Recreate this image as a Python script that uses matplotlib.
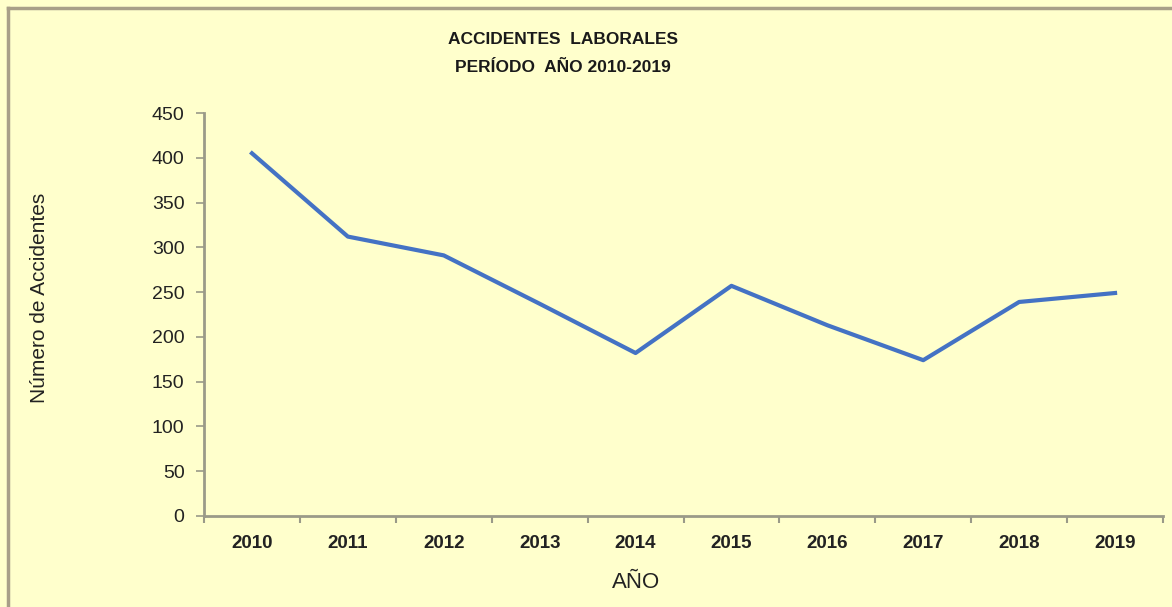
import numpy as np
import matplotlib.pyplot as plt
from matplotlib.lines import Line2D

years = ["2010", "2011", "2012", "2013", "2014", "2015", "2016", "2017", "2018", "2019"]
accidentes = [405, 312, 291, 237, 182, 257, 213, 174, 239, 249]
yticks = [0, 50, 100, 150, 200, 250, 300, 350, 400, 450]

plt.rcParams['font.family'] = ['Liberation Sans Narrow', 'Liberation Sans', 'DejaVu Sans']

bg = '#ffffcc'
W, H = 1172, 607
fig = plt.figure(figsize=(W / 100, H / 100), dpi=100, facecolor=bg)

# marco exterior
fig.add_artist(Line2D([8 / W, 1], [1 - 8 / H, 1 - 8 / H], color='#a89f88', lw=2.5))
fig.add_artist(Line2D([8 / W, 8 / W], [0, 1 - 8 / H], color='#a89f88', lw=2.5))

ax = fig.add_axes([204 / W, 1 - 516 / H, (1163 - 204) / W, (516 - 113) / H])
ax.set_facecolor(bg)

x = np.arange(len(years))
ax.plot(x, accidentes, color='#4472c4', lw=3, solid_joinstyle='round')

ax.set_xlim(-0.5, len(years) - 0.5)
ax.set_ylim(0, 450)
ax.set_yticks(yticks)
ax.set_xticks(x)
ax.set_xticklabels(years, fontsize=13.5, fontweight='bold', color='#222222')
ax.set_xticks(np.arange(-0.5, len(years)), minor=True)
ax.tick_params(axis='x', which='major', length=0, pad=14)
ax.tick_params(axis='x', which='minor', length=5, width=1.5, color='#9a9a88')
ax.tick_params(axis='y', length=6, width=1.2, color='#9a9a88', labelsize=14,
               labelcolor='#222222', pad=8)

for s in ['top', 'right']:
    ax.spines[s].set_visible(False)
for s in ['left', 'bottom']:
    ax.spines[s].set_color('#9a9a88')
    ax.spines[s].set_linewidth(2)

fig.text(563 / W, 1 - 40 / H, "ACCIDENTES  LABORALES", ha='center', va='center',
         fontsize=12.5, fontweight='bold', color='#1a1a1a')
fig.text(563 / W, 1 - 68 / H, "PERÍODO  AÑO 2010-2019", ha='center', va='center',
         fontsize=12.5, fontweight='bold', color='#1a1a1a')

fig.text(40 / W, 1 - 298 / H, "Número de Accidentes", rotation=90, ha='center', va='center',
         fontsize=15, color='#222222')
fig.text(636 / W, 1 - 583 / H, "AÑO", ha='center', va='center', fontsize=16, color='#222222')

fig.savefig('out.png', dpi=100, facecolor=bg)
